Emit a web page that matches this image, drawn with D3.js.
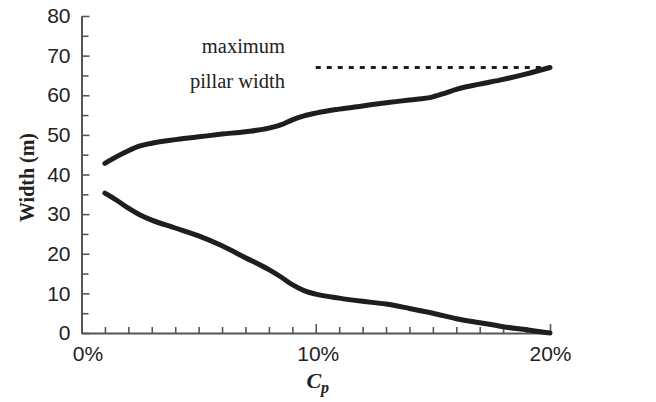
<!DOCTYPE html>
<html>
<head>
<meta charset="utf-8">
<script src="https://cdn.jsdelivr.net/npm/d3@7"></script>
<style>
  html, body { margin: 0; padding: 0; background: #fff; }
  svg { display: block; }
</style>
</head>
<body>
<svg id="chart" width="656" height="402"></svg>
<script>
// Cp (%) sample positions and the two width envelopes (m)
const cpUpper = [1, 1.5, 2, 2.5, 3, 4, 5, 6, 7, 8, 8.5, 9, 9.5, 10, 11, 12, 13, 14, 15, 15.5, 16, 17, 18, 19, 20];
const widthUpper = [42.8, 44.5, 46, 47.2, 47.9, 48.8, 49.5, 50.2, 50.8, 51.7, 52.5, 53.8, 54.8, 55.5, 56.5, 57.3, 58.1, 58.8, 59.6, 60.5, 61.5, 62.8, 64, 65.4, 67];
const cpLower = [1, 1.5, 2, 2.5, 3, 4, 5, 6, 7, 8, 8.5, 9, 9.5, 10, 11, 12, 13, 14, 15, 16, 17, 18, 19, 20];
const widthLower = [35.3, 33.5, 31.5, 29.8, 28.5, 26.5, 24.5, 22, 19, 16, 14.2, 12.2, 10.7, 9.8, 8.8, 8, 7.3, 6.2, 5, 3.6, 2.6, 1.6, 0.8, 0];

// Maximum pillar width reference line
const maxPillarCp = [10, 20];
const maxPillarWidth = 67;

// Tick values
const xMajorTicks = [0, 10, 20];
const xMajorLabels = ["0%", "10%", "20%"];
const xMinorTicks = d3.range(0, 21, 1);
const yMajorTicks = [0, 10, 20, 30, 40, 50, 60, 70, 80];
const yMinorTicks = [5, 15, 25, 35, 45, 55, 65, 75];

const svg = d3.select("#chart");
const x = d3.scaleLinear().domain([0, 20]).range([81.5, 550]);
const y = d3.scaleLinear().domain([0, 80]).range([333, 16]);

const axisColor = "#555";
const inkColor = "#1e1e1e";
const sans = "'Liberation Sans', Arial, sans-serif";
const serif = "'Liberation Serif', 'Times New Roman', serif";

// Y axis (ticks pointing inward)
const gyMinor = svg.append("g").attr("transform", `translate(${x(0)},0)`)
  .call(d3.axisLeft(y).tickValues(yMinorTicks).tickFormat("").tickSizeInner(-7).tickSizeOuter(0));
gyMinor.select(".domain").remove();
const gyMajor = svg.append("g").attr("transform", `translate(${x(0)},0)`)
  .call(d3.axisLeft(y).tickValues(yMajorTicks).tickFormat(d3.format("d")).tickSizeInner(-8).tickSizeOuter(0).tickPadding(11));
gyMajor.select(".domain").attr("stroke", axisColor).attr("stroke-width", 2);
gyMajor.selectAll(".tick text")
  .attr("font-family", sans).attr("font-size", 21).attr("fill", "#222");

// X axis (ticks pointing inward)
const gxMinor = svg.append("g").attr("transform", `translate(0,${y(0)})`)
  .call(d3.axisBottom(x).tickValues(xMinorTicks.filter(v => v % 10 !== 0)).tickFormat("").tickSizeInner(-6).tickSizeOuter(0));
gxMinor.select(".domain").remove();
const gxMajor = svg.append("g").attr("transform", `translate(0,${y(0)})`)
  .call(d3.axisBottom(x).tickValues(xMajorTicks).tickFormat((d, i) => xMajorLabels[i]).tickSizeInner(-9).tickSizeOuter(0).tickPadding(13));
gxMajor.select(".domain").attr("stroke", axisColor).attr("stroke-width", 2);
gxMajor.selectAll(".tick text")
  .attr("font-family", sans).attr("font-size", 21).attr("fill", "#222")
  .attr("dy", "0.72em")
  .attr("dx", d => d === 0 ? 6 : (d === 10 ? 2 : 0));

svg.selectAll(".tick line").attr("stroke", axisColor).attr("stroke-width", 1.6);

// Width envelope curves
const line = d3.line().x(d => x(d[0])).y(d => y(d[1])).curve(d3.curveMonotoneX);
[[cpUpper, widthUpper], [cpLower, widthLower]].forEach(([cps, ws]) => {
  svg.append("path")
    .datum(cps.map((c, i) => [c, ws[i]]))
    .attr("d", line)
    .attr("fill", "none")
    .attr("stroke", inkColor)
    .attr("stroke-width", 5)
    .attr("stroke-linecap", "round")
    .attr("stroke-linejoin", "round");
});

// Dotted maximum pillar width line
svg.append("line")
  .attr("x1", x(maxPillarCp[0])).attr("x2", x(maxPillarCp[1]))
  .attr("y1", y(maxPillarWidth)).attr("y2", y(maxPillarWidth))
  .attr("stroke", inkColor).attr("stroke-width", 3)
  .attr("stroke-dasharray", "5,6");

// Annotation
const note = svg.append("text")
  .attr("font-family", serif).attr("font-size", 20.5).attr("fill", "#222").attr("text-anchor", "end");
note.append("tspan").attr("x", 285).attr("y", 53).text("maximum");
note.append("tspan").attr("x", 285).attr("y", 88).text("pillar width");

// Axis titles
svg.append("text")
  .attr("transform", `translate(34,${(y(0) + y(80)) / 2 + 3}) rotate(-90)`)
  .attr("text-anchor", "middle")
  .attr("font-family", serif).attr("font-weight", "bold").attr("font-size", 20).attr("fill", "#222")
  .text("Width (m)");

const xt = svg.append("text")
  .attr("x", x(10) + 2).attr("y", 388)
  .attr("text-anchor", "middle")
  .attr("font-family", serif).attr("font-weight", "bold").attr("font-style", "italic")
  .attr("font-size", 22).attr("fill", "#222");
xt.append("tspan").text("C");
xt.append("tspan").attr("font-size", 16).attr("dy", 5).text("p");
</script>
</body>
</html>
